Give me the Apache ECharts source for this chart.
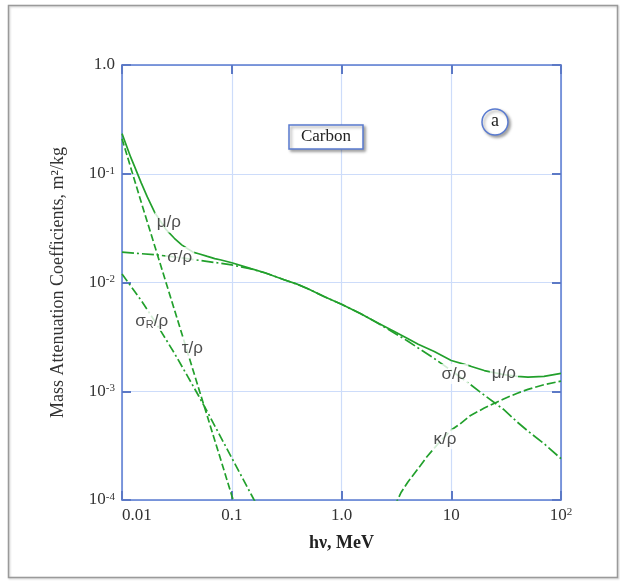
<!DOCTYPE html>
<html>
<head>
<meta charset="utf-8">
<script src="https://cdn.jsdelivr.net/npm/echarts@6/dist/echarts.min.js"></script>
<style>
  html, body { margin: 0; padding: 0; background: #fff; }
  #chart { width: 620px; height: 583px; }
</style>
</head>
<body>
<div id="chart"></div>
<script>
// carbon, m2/kg vs photon energy in MeV
const muE = [0.01, 0.012, 0.013, 0.015, 0.017, 0.02, 0.025, 0.03, 0.035, 0.04, 0.045, 0.05, 0.06, 0.07, 0.08, 0.1, 0.15, 0.2, 0.3, 0.4, 0.5, 0.7, 1, 1.5, 2, 3, 4, 5, 7, 10, 15, 20, 30, 40, 50, 70, 100];
const muV = [0.234, 0.142, 0.117, 0.082, 0.0612, 0.0435, 0.031, 0.0255, 0.0222, 0.0203, 0.0189, 0.0184, 0.0174, 0.0166, 0.0161, 0.0152, 0.0134, 0.0123, 0.0106, 0.0096, 0.0087, 0.0074, 0.0063, 0.00515, 0.0044, 0.00356, 0.00305, 0.0027, 0.00232, 0.00192, 0.0017, 0.00155, 0.00142, 0.00137, 0.00135, 0.00137, 0.00146];

const sigE = [0.01, 0.02, 0.03, 0.05, 0.08, 0.1, 0.15, 0.2, 0.3, 0.4, 0.5, 0.7, 1, 1.5, 2, 3, 4, 5, 7, 10, 15, 20, 30, 40, 50, 70, 100];
const sigV = [0.019, 0.018, 0.0172, 0.016, 0.015, 0.0145, 0.0133, 0.0123, 0.0106, 0.0096, 0.0087, 0.0074, 0.0063, 0.00515, 0.0044, 0.00345, 0.0029, 0.0025, 0.002, 0.00155, 0.00115, 0.00092, 0.00068, 0.00052, 0.00043, 0.00033, 0.00024];

const tauE = [0.01, 0.015, 0.02, 0.03, 0.04, 0.05, 0.06, 0.08, 0.1, 0.12];
const tauV = [0.21, 0.0543, 0.0212, 0.00564, 0.0022, 0.00106, 0.000585, 0.000229, 0.00011, 0.000062];

const rayE = [0.01, 0.015, 0.02, 0.03, 0.04, 0.05, 0.06, 0.08, 0.1, 0.15, 0.2];
const rayV = [0.012, 0.00682, 0.00437, 0.00224, 0.00135, 0.000904, 0.000646, 0.000373, 0.000244, 0.000113, 0.0000655];

const kapE = [3, 3.5, 4, 5, 6, 8, 10, 12, 15, 20, 30, 40, 50, 70, 100];
const kapV = [0.000085, 0.000118, 0.000145, 0.000195, 0.00025, 0.00035, 0.00044, 0.0005, 0.0006, 0.0007, 0.00085, 0.00096, 0.00104, 0.00115, 0.00124];

// tick labels, keyed by power of ten
const xTickLabels = { '-2': '0.01', '-1': '0.1', '0': '1.0', '1': '10', '2': '10{sup|2}' };
const yTickLabels = { '-4': '10{sup|-4}', '-3': '10{sup|-3}', '-2': '10{sup|-2}', '-1': '10{sup|-1}', '0': '1.0' };

// curve labels: [E, value, text]
const curveLabels = [
  [0.0267, 0.0356, '{t|μ/ρ}'],
  [0.0336, 0.01715, '{t|σ/ρ}'],
  [0.01866, 0.00443, '{t|σ}{sub|R}{t|/ρ}'],
  [0.0438, 0.00249, '{t|τ/ρ}'],
  [10.57, 0.00144, '{t|σ/ρ}'],
  [30.2, 0.00147, '{t|μ/ρ}'],
  [8.75, 0.000362, '{t|κ/ρ}']
];

const green = '#22a02c';
const frameBlue = '#5a7bd0';
const tickBlue = '#5c79c6';
const gridBlue = '#cddcfa';
const serif = "'Liberation Serif', 'DejaVu Serif', serif";
const sans = "'Liberation Sans', 'DejaVu Sans', sans-serif";

const pairs = (xs, ys) => xs.map((x, i) => [x, ys[i]]);
const pow = v => String(Math.round(Math.log10(v)));

const chart = echarts.init(document.getElementById('chart'));

const lineSeries = (name, xs, ys, dash) => ({
  name, type: 'line', data: pairs(xs, ys),
  smooth: false, showSymbol: false, symbol: 'none',
  lineStyle: { color: green, width: 1.7, type: dash },
  clip: true, z: 3
});

const axisCommon = {
  type: 'log', logBase: 10,
  axisLine: { show: true, onZero: false, lineStyle: { color: frameBlue, width: 1.5 } },
  axisTick: { show: true, inside: true, length: 9, lineStyle: { color: tickBlue, width: 2 } },
  minorTick: { show: false }
};

chart.setOption({
  animation: false,
  backgroundColor: '#fff',
  grid: { left: 122, top: 65, width: 439, height: 435 },
  xAxis: [
    Object.assign({}, axisCommon, {
      position: 'bottom', min: 0.01, max: 100, splitNumber: 4,
      splitLine: { show: true, lineStyle: { color: gridBlue, width: 1.2 } },
      axisLabel: {
        margin: 7, color: '#333', fontFamily: serif, fontSize: 17, alignMinLabel: 'left',
        formatter: v => xTickLabels[pow(v)] || '',
        rich: { sup: { fontSize: 11, verticalAlign: 'top', fontFamily: serif, color: '#333' } }
      },
      name: 'hν, MeV', nameLocation: 'middle', nameGap: 34,
      nameTextStyle: { fontFamily: serif, fontWeight: 'bold', fontSize: 18, color: '#222' }
    }),
    Object.assign({}, axisCommon, {
      position: 'top', min: 0.01, max: 100, splitNumber: 4,
      splitLine: { show: false }, axisLabel: { show: false }
    })
  ],
  yAxis: [
    Object.assign({}, axisCommon, {
      position: 'left', min: 0.0001, max: 1, splitNumber: 4,
      splitLine: { show: true, lineStyle: { color: gridBlue, width: 1.2 } },
      axisLabel: {
        margin: 7, color: '#333', fontFamily: serif, fontSize: 17,
        formatter: v => yTickLabels[pow(v)] || '',
        rich: { sup: { fontSize: 11, verticalAlign: 'top', fontFamily: serif, color: '#333' } }
      },
      name: 'Mass Attenuation Coefficients, m²/kg', nameLocation: 'middle', nameGap: 55,
      nameTextStyle: { fontFamily: serif, fontSize: 18, color: '#333' }
    }),
    Object.assign({}, axisCommon, {
      position: 'right', min: 0.0001, max: 1, splitNumber: 4,
      splitLine: { show: false }, axisLabel: { show: false }
    })
  ],
  series: [
    lineSeries('mu', muE, muV, 'solid'),
    lineSeries('sigma', sigE, sigV, [12, 3, 2, 3]),
    lineSeries('tau', tauE, tauV, [7, 3]),
    lineSeries('sigmaR', rayE, rayV, [9, 3, 2, 3]),
    lineSeries('kappa', kapE, kapV, [9, 3]),
    {
      name: 'labels', type: 'scatter', symbolSize: 0, z: 10, silent: true,
      data: curveLabels.map(d => ({ value: [d[0], d[1]], text: d[2] })),
      label: {
        show: true, position: 'inside',
        formatter: p => p.data.text,
        backgroundColor: '#fff', padding: [0, 2],
        rich: {
          t: { fontFamily: sans, fontSize: 17, color: '#222', lineHeight: 20 },
          sub: { fontFamily: sans, fontSize: 11, color: '#222', lineHeight: 20, verticalAlign: 'bottom' }
        }
      }
    }
  ],
  graphic: [
    {
      type: 'rect', silent: true, z: 0,
      shape: { x: 8.5, y: 5.5, width: 609, height: 572 },
      style: { fill: 'none', stroke: '#9a9a9a', lineWidth: 1.5, shadowBlur: 2, shadowColor: 'rgba(0,0,0,0.2)', shadowOffsetX: 1, shadowOffsetY: 1 }
    },
    {
      type: 'rect', z: 20,
      shape: { x: 289, y: 125, width: 74, height: 24 },
      style: { fill: '#fff', stroke: frameBlue, lineWidth: 1.5, shadowBlur: 3, shadowOffsetX: 2, shadowOffsetY: 2, shadowColor: 'rgba(0,0,0,0.35)' }
    },
    {
      type: 'text', z: 21, x: 326, y: 137,
      style: { text: 'Carbon', fontFamily: serif, fontSize: 17, fill: '#222', align: 'center', verticalAlign: 'middle' }
    },
    {
      type: 'circle', z: 20,
      shape: { cx: 495, cy: 122, r: 13 },
      style: { fill: '#fff', stroke: frameBlue, lineWidth: 1.5, shadowBlur: 3, shadowOffsetX: 2, shadowOffsetY: 2, shadowColor: 'rgba(0,0,0,0.35)' }
    },
    {
      type: 'text', z: 21, x: 495, y: 121,
      style: { text: 'a', fontFamily: serif, fontSize: 18, fill: '#222', align: 'center', verticalAlign: 'middle' }
    }
  ]
});
</script>
</body>
</html>
